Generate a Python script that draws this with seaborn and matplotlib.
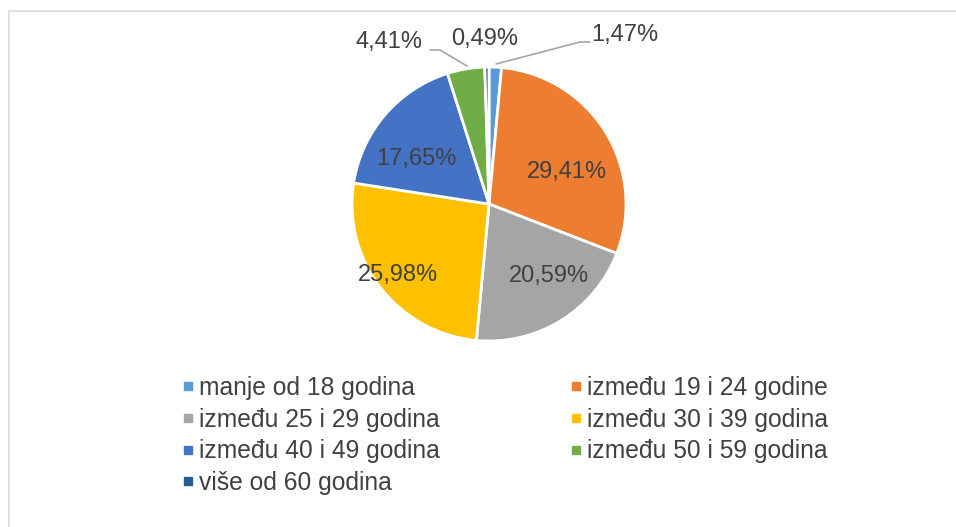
import numpy as np
import seaborn as sns
import matplotlib.pyplot as plt
from matplotlib.lines import Line2D
from matplotlib.patches import Rectangle

# Data
categories = ["manje od 18 godina", "između 19 i 24 godine", "između 25 i 29 godina",
              "između 30 i 39 godina", "između 40 i 49 godina", "između 50 i 59 godina",
              "više od 60 godina"]
shares = [1.47, 29.41, 20.59, 25.98, 17.65, 4.41, 0.49]
colors = sns.color_palette(["#5B9BD5", "#ED7D31", "#A5A5A5", "#FFC000",
                            "#4472C4", "#70AD47", "#255E91"])

sns.set_theme(style="white")
plt.rcParams['font.family'] = ['Liberation Sans', 'DejaVu Sans']
text_col = "#404040"

W, H = 956, 527
fig = plt.figure(figsize=(W / 100, H / 100), dpi=100)

# chart frame
fig.patches.append(Rectangle((9 / W, -0.1), 1.2, 1 - 11 / H + 0.1, transform=fig.transFigure,
                             fill=False, edgecolor="#D9D9D9", lw=1.2))

cx, cy, r = 489, 204, 137
ax = fig.add_axes([(cx - r) / W, (H - cy - r) / H, 2 * r / W, 2 * r / H])
wedges, _ = ax.pie(shares, colors=colors, startangle=90, counterclock=False,
                   radius=1, wedgeprops=dict(edgecolor="white", linewidth=2))
ax.set_xlim(-1, 1)
ax.set_ylim(-1, 1)
ax.set_aspect("equal")
ax.axis("off")

# label placement in pixels (Excel best fit)
label_px = [(625, 35), (567, 172), (549, 276), (398, 275), (416, 159), (389, 42), (485, 39)]
leaders = {0: [(496, 64), (580, 42), (590, 42)], 5: [(467, 66), (440, 50), (430, 50)]}

def to_data(p):
    return ((p[0] - cx) / r, (cy - p[1]) / r)

for i, (v, p) in enumerate(zip(shares, label_px)):
    x, y = to_data(p)
    ax.text(x, y, f"{v:.2f}%".replace(".", ","), ha="center", va="center",
            fontsize=17, color=text_col, clip_on=False)
for i, pts in leaders.items():
    d = np.array([to_data(q) for q in pts])
    ax.plot(d[:, 0], d[:, 1], color="#A6A6A6", lw=1.2, clip_on=False)

# legend, row-major order like Excel
handles = [Line2D([], [], ls="", marker="s", markersize=5.2, color=c) for c in colors]
order = [0, 2, 4, 6, 1, 3, 5]
fig.legend([handles[i] for i in order], [categories[i] for i in order],
           ncol=2, loc="upper left", bbox_to_anchor=(182 / W, 1 - 376 / H),
           frameon=False, fontsize=17.7, labelcolor=text_col,
           handlelength=0.5, handletextpad=0.2, columnspacing=5.3,
           labelspacing=0.31, borderaxespad=0, borderpad=0)

plt.savefig("out.png", dpi=100)
